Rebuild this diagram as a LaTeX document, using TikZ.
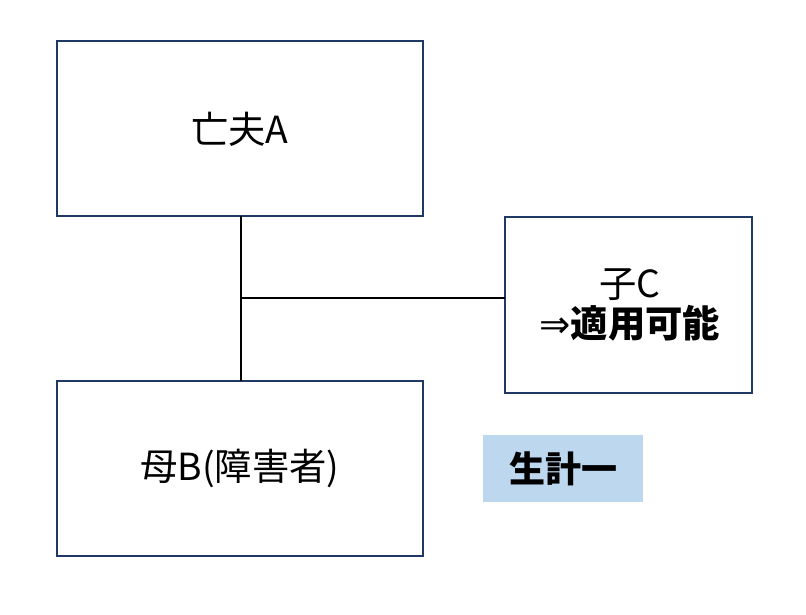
\documentclass[tikz,border=0pt]{standalone}
\usepackage{fontspec}
\setmainfont{Noto Sans CJK JP}
\newfontfamily\symf{DejaVu Sans}
\definecolor{navy}{HTML}{203864}
\definecolor{lblue}{HTML}{BDD7EE}
\begin{document}
\begin{tikzpicture}[x=0.75pt,y=-0.75pt,
  box/.style={draw=navy,line width=1.1pt,fill=white},
  conn/.style={draw=black,line width=1.8pt},
  txt/.style={font=\fontsize{28}{36}\selectfont\addfontfeature{FakeBold=0},align=center}]
\useasboundingbox (0,0) rectangle (806,614);
\draw[box] (57,41) rectangle (423,216);
\draw[box] (505,217) rectangle (752,393);
\draw[box] (57,381) rectangle (423,556);
\coordinate (a) at (241,216);
\coordinate (b) at (241,381);
\coordinate (j) at (241,298);
\coordinate (c) at (505,298);
\draw[conn] (a) -- (b);
\draw[conn] (j) -- (c);
\node[txt] (A) at (240,129) {亡夫A};
\node[txt] (C) at (630,305) {子C\\[-6pt]{\symf ⇒}\textbf{適用可能}};
\node[txt] (B) at (240,468) {母B(障害者)};
\node[fill=lblue,minimum width=120pt,minimum height=50pt,inner sep=0pt,font=\fontsize{27}{32}\selectfont\bfseries] (L) at (563,468.5) {生計一};
\end{tikzpicture}
\end{document}
